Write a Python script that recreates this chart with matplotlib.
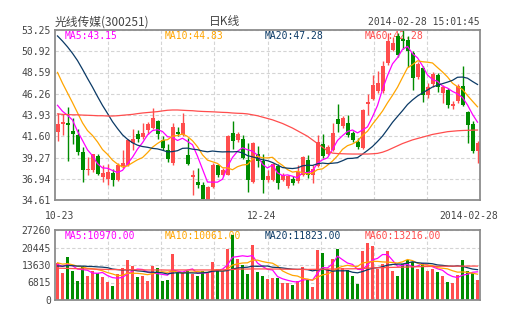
import numpy as np
import pandas as pd
import matplotlib
matplotlib.use("Agg")
import matplotlib.pyplot as plt

plt.rcParams['font.family'] = ['DejaVu Sans Mono']

# daily candles, 2013-10-23 .. 2014-02-28
opens = [42.07, 42.90, 43.00, 42.20, 41.70, 39.85, 37.85, 37.95, 39.40, 37.10,
         36.95, 37.55, 36.85, 38.30, 38.40, 40.90, 41.80, 41.55, 42.30, 42.50,
         43.30, 41.20, 40.13, 38.67, 42.06, 41.77, 39.58, 37.10, 36.58, 36.30,
         34.61, 36.00, 38.45, 37.40, 37.40, 41.95, 41.20, 41.35, 39.00, 36.60,
         39.60, 38.90, 36.85, 36.84, 38.30, 36.84, 36.10, 36.95, 36.66, 37.39,
         39.03, 37.39, 38.30, 40.75, 39.65, 40.13, 43.53, 42.69, 43.05, 41.96,
         40.97, 40.31, 45.10, 45.72, 46.52, 46.52, 49.63, 51.10, 52.55, 52.30,
         52.20, 50.70, 48.06, 49.08, 46.16, 47.30, 48.35, 46.34, 46.70, 44.88,
         45.50, 47.07, 44.26, 42.94, 39.95]
highs = [44.10, 44.00, 44.80, 43.60, 42.40, 40.40, 39.30, 39.70, 39.60, 38.50,
         38.55, 38.00, 38.70, 40.10, 41.35, 42.40, 42.30, 43.10, 43.20, 44.70,
         43.40, 41.60, 40.80, 43.05, 42.60, 44.10, 41.40, 37.90, 38.10, 36.60,
         36.10, 38.70, 38.60, 38.10, 41.70, 43.30, 42.10, 41.70, 40.85, 41.00,
         40.50, 39.60, 37.90, 38.70, 38.60, 37.60, 37.40, 37.20, 38.50, 39.40,
         39.58, 38.50, 41.70, 41.80, 40.60, 43.00, 45.10, 43.80, 43.90, 42.20,
         41.40, 44.60, 46.20, 48.35, 48.72, 49.80, 52.90, 52.50, 52.90, 53.25,
         52.60, 50.90, 49.70, 49.30, 47.44, 48.60, 48.50, 47.25, 46.90, 45.50,
         47.30, 49.27, 44.40, 43.30, 41.04]
lows = [41.10, 41.75, 38.90, 40.80, 39.50, 36.60, 37.30, 37.70, 37.30, 36.60,
        36.30, 36.10, 36.70, 38.10, 38.30, 40.10, 41.00, 41.30, 41.90, 42.40,
        41.30, 40.10, 38.80, 38.50, 41.60, 41.60, 38.40, 35.20, 35.90, 34.70,
        34.61, 35.90, 37.10, 37.20, 37.30, 40.20, 41.00, 39.10, 35.50, 36.50,
        38.20, 35.40, 36.60, 36.70, 35.80, 36.70, 35.90, 36.20, 36.50, 37.20,
        37.02, 36.47, 38.20, 39.20, 39.50, 40.00, 42.10, 42.50, 41.50, 41.00,
        40.20, 40.20, 43.97, 45.60, 46.30, 46.30, 49.40, 50.90, 50.30, 51.20,
        49.20, 46.70, 47.90, 45.40, 45.80, 47.00, 46.40, 45.25, 44.70, 44.60,
        45.30, 44.90, 40.86, 39.80, 38.67]
closes = [42.98, 43.20, 42.85, 41.85, 39.90, 37.90, 38.05, 39.60, 37.50, 37.60,
          37.70, 36.85, 38.50, 38.65, 41.20, 41.30, 41.30, 42.00, 42.90, 43.60,
          41.80, 40.30, 39.14, 42.58, 41.85, 43.05, 38.56, 37.30, 36.29, 34.75,
          36.00, 38.50, 37.30, 37.90, 41.60, 41.10, 41.85, 39.20, 36.85, 40.85,
          38.85, 36.85, 37.20, 38.56, 36.47, 37.39, 37.20, 36.47, 37.68, 39.30,
          37.39, 38.00, 40.97, 39.40, 40.42, 41.96, 42.94, 43.60, 41.70, 41.23,
          40.38, 44.50, 45.35, 47.18, 47.44, 49.27, 52.01, 51.80, 50.55, 52.00,
          50.90, 48.00, 49.57, 46.16, 46.96, 48.40, 47.00, 46.96, 45.08, 45.14,
          47.07, 44.99, 42.87, 39.95, 40.85]
volumes = [14290, 10630, 16620, 11290, 7400, 13240, 9350, 11290, 10630, 9090,
           7140, 5450, 10120, 12330, 15580, 13240, 8950, 9350, 7400, 13240,
           12460, 7400, 7790, 17910, 10630, 10380, 11420, 10120, 9350, 11290,
           10630, 14800, 11940, 11290, 19730, 25500, 16080, 13500, 10000, 21500,
           10900, 9350, 8050, 8700, 8700, 6490, 6490, 5710, 7400, 12680,
           7790, 5060, 19480, 18170, 11940, 15830, 20010, 12590, 11550, 9350,
           6360, 19080, 22330, 21030, 12200, 13880, 19000, 11350, 9350, 14000,
           15450, 14800, 12200, 14530, 11290, 11900, 10900, 9300, 6960, 6700,
           9850, 15500, 11200, 10700, 7600]

# sessions before 10-23, needed to start the moving averages
prev_close = [54.5, 55.5, 56.0, 55.8, 57.0, 58.0, 58.8, 58.0, 57.2, 55.2,
              55.0, 53.5, 52.5, 51.0, 49.0, 46.5, 45.0, 44.5, 46.0]
prev_volume = [12500, 11000, 12800, 10500, 13000, 11800, 12200, 13500, 11200, 11300,
               16000, 14500, 15800, 13200, 16000, 14800, 12600, 13900, 13910]

# 60-day averages as shown on the chart
ma60_price = [44.05, 44.00, 43.98, 43.95, 43.95, 43.92, 43.90, 43.88, 43.85, 43.85,
              43.82, 43.82, 43.85, 43.90, 43.95, 44.00, 44.08, 44.15, 44.20, 44.25,
              44.30, 44.38, 44.45, 44.48, 44.48, 44.45, 44.42, 44.40, 44.35, 44.32,
              44.30, 44.28, 44.25, 44.22, 44.20, 44.15, 44.12, 44.10, 44.05, 43.95,
              43.85, 43.70, 43.55, 43.40, 43.20, 43.00, 42.75, 42.50, 42.20, 41.90,
              41.60, 41.20, 40.80, 40.40, 40.00, 39.75, 39.70, 39.68, 39.66, 39.65,
              39.65, 39.65, 39.65, 39.68, 39.72, 39.85, 40.05, 40.30, 40.55, 40.80,
              41.00, 41.20, 41.35, 41.50, 41.65, 41.80, 41.90, 42.00, 42.10, 42.15,
              42.20, 42.23, 42.25, 42.27, 42.28]
ma60_volume = [12400, 12350, 12300, 12250, 12200, 12150, 12100, 12050, 12000, 11950,
               11900, 11850, 11850, 11800, 11800, 11800, 11750, 11750, 11700, 11700,
               11700, 11700, 11650, 11650, 11700, 11700, 11700, 11700, 11700, 11700,
               11700, 11700, 11750, 11750, 11800, 11900, 12000, 12050, 12050, 12100,
               12100, 12100, 12100, 12050, 12050, 12000, 12000, 11950, 11950, 11900,
               11900, 11950, 11950, 12000, 12050, 12050, 12100, 12100, 12150, 12150,
               12200, 12300, 12400, 12500, 12550, 12600, 12650, 12700, 12750, 12800,
               12850, 12900, 12950, 13000, 13050, 13100, 13100, 13150, 13150, 13200,
               13200, 13200, 13210, 13210, 13216]

date_labels = ["10-23", "12-24", "2014-02-28"]
price_ticks = [34.61, 36.94, 39.27, 41.60, 43.93, 46.26, 48.59, 50.92, 53.25]
volume_ticks = [0, 6815, 13630, 20445, 27260]

RED = "#ff4d4d"
GREEN = "#008c00"
C_MA5, C_MA10, C_MA20, C_MA60 = "#ff00ff", "#ffa500", "#0b3a66", "#ff4d4d"
FRAME = "#8c8c8c"
GRID = "#d4d4d4"
TXT = "#444444"

n = len(closes)
x = np.arange(n)
o, h, l, c = map(np.array, (opens, highs, lows, closes))
vol = np.array(volumes)
up = c >= o
colors = np.where(up, RED, GREEN)

cs = pd.Series(prev_close + closes)
vs = pd.Series(prev_volume + volumes)
k = len(prev_close)
ma_p = {w: cs.rolling(w).mean().to_numpy()[k:] for w in (5, 10, 20)}
ma_v = {w: vs.rolling(w).mean().to_numpy()[k:] for w in (5, 10, 20)}

W, H = 505, 330
fig = plt.figure(figsize=(W / 100, H / 100), dpi=100)
ax = fig.add_axes([55 / W, 1 - 200 / H, 425 / W, 170 / H])
axv = fig.add_axes([55 / W, 1 - 300 / H, 425 / W, 70 / H])

vgrid = [-0.5 + 85 / 8 * i for i in range(1, 8)]

for a in (ax, axv):
    a.set_xlim(-0.5, n - 0.5)
    a.set_axisbelow(True)
    a.set_xticks(vgrid)
    a.tick_params(axis='x', length=0, labelbottom=False)
    a.tick_params(axis='y', length=0, pad=3, labelsize=7, labelcolor=TXT)
    a.grid(True, color=GRID, ls=(0, (3, 2)), lw=0.8)
    for s in a.spines.values():
        s.set_color(FRAME)
        s.set_linewidth(1.3)

# price panel
ax.set_ylim(price_ticks[0], price_ticks[-1])
ax.set_yticks(price_ticks)
ax.set_yticklabels([f"{t:.2f}" for t in price_ticks])

ax.vlines(x, l, h, colors=colors, lw=1, zorder=2)
body = np.maximum(np.abs(c - o), 0.06)
ax.bar(x, body, bottom=np.minimum(o, c), width=0.8, color=colors, lw=0, zorder=2.5)

ax.plot(x, ma_p[5], color=C_MA5, lw=0.9, zorder=3)
ax.plot(x, ma_p[10], color=C_MA10, lw=0.9, zorder=3)
ax.plot(x, ma_p[20], color=C_MA20, lw=0.9, zorder=3)
ax.plot(x, ma60_price, color=C_MA60, lw=0.9, zorder=3)

# volume panel
axv.set_ylim(0, volume_ticks[-1])
axv.set_yticks(volume_ticks)
axv.set_yticklabels([str(t) for t in volume_ticks])
axv.bar(x, vol, width=0.75, color=colors, lw=0, zorder=2)
axv.plot(x, ma_v[5], color=C_MA5, lw=0.9, zorder=3)
axv.plot(x, ma_v[10], color=C_MA10, lw=0.9, zorder=3)
axv.plot(x, ma_v[20], color=C_MA20, lw=0.9, zorder=3)
axv.plot(x, ma60_volume, color=C_MA60, lw=0.9, zorder=3)

# MA captions, drawn under the marks
tf = fig.transFigure
price_caps = [("MA5", ma_p[5][-1], C_MA5), ("MA10", ma_p[10][-1], C_MA10),
              ("MA20", ma_p[20][-1], C_MA20), ("MA60", ma60_price[-1], C_MA60)]
vol_caps = [("MA5", ma_v[5][-1], C_MA5), ("MA10", ma_v[10][-1], C_MA10),
            ("MA20", ma_v[20][-1], C_MA20), ("MA60", ma60_volume[-1], C_MA60)]
for i, (name, val, col) in enumerate(price_caps):
    ax.text((65 + 100 * i) / W, 1 - 36 / H, f"{name}:{val:.2f}", color=col,
            fontsize=7, va='center', transform=tf, zorder=1)
for i, (name, val, col) in enumerate(vol_caps):
    axv.text((65 + 100 * i) / W, 1 - 236 / H, f"{name}:{val:.2f}", color=col,
             fontsize=7, va='center', transform=tf, zorder=1)

# header
fig.text(55 / W, 1 - 22 / H, "光线传媒(300251)", family=['Noto Sans CJK SC'],
         fontsize=8.5, color=TXT, va='center')
fig.text(225 / W, 1 - 22 / H, "日K线", family=['Noto Sans CJK SC'],
         fontsize=8.5, color=TXT, va='center', ha='center')
fig.text(480 / W, 1 - 22 / H, "2014-02-28 15:01:45", fontsize=7, color=TXT,
         va='center', ha='right')

# date axis
for px, lab in zip((60, 262, 469), date_labels):
    fig.text(px / W, 1 - 216 / H, lab, fontsize=7, color=TXT, va='center', ha='center')

fig.savefig("out.png", dpi=100)
